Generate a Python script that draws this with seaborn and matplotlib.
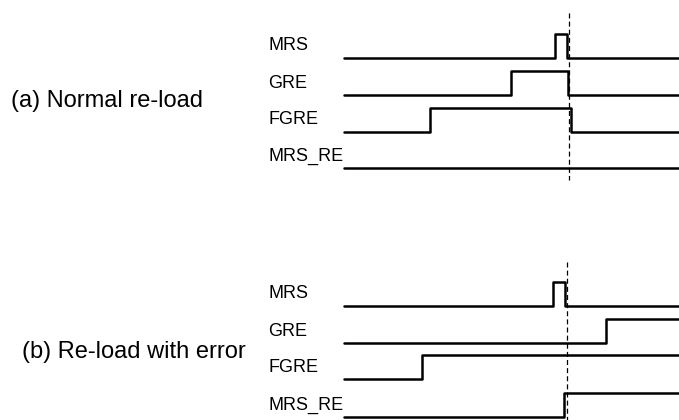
import numpy as np
import pandas as pd
import seaborn as sns
import matplotlib.pyplot as plt

# signal names and the times where each one toggles (starts low)
signals = ["MRS", "GRE", "FGRE", "MRS_RE"]
edges_a = [[555, 567], [511, 568], [430, 571], []]
edges_b = [[553, 565], [606], [422], [564]]
marker_a = 569
marker_b = 567
t_start, t_end = 344, 679
panel_labels = ["(a) Normal re-load", "(b) Re-load with error"]

# layout (pixel units, y down)
row_base_a = [58, 95, 132, 168]
row_base_b = [306, 343, 379, 417]
amp = 24.5


def wave_df(edges_list, bases):
    rows = []
    for name, edges, base in zip(signals, edges_list, bases):
        ts = [t_start] + list(edges) + [t_end]
        lv = [i % 2 for i in range(len(edges) + 1)]
        lv = lv + [lv[-1]]
        for t, l in zip(ts, lv):
            rows.append({"signal": name, "t": t, "y": base - l * amp})
    return pd.DataFrame(rows)


sns.set_style("white")
plt.rcParams["font.family"] = ["Liberation Sans", "DejaVu Sans"]

fig = plt.figure(figsize=(6.79, 4.2), dpi=100)
ax = fig.add_axes([0, 0, 1, 1])

for edges, bases in [(edges_a, row_base_a), (edges_b, row_base_b)]:
    df = wave_df(edges, bases)
    sns.lineplot(data=df, x="t", y="y", units="signal", estimator=None,
                 sort=False, color="black", lw=1.8, drawstyle="steps-post",
                 ax=ax, legend=False)
    for name, base in zip(signals, bases):
        ax.text(268, base - 12, name, fontsize=13, va="center", ha="left",
                color="black")

ax.vlines(marker_a, 13, 180, color="black", lw=0.9, linestyle=(0, (4, 2.5)))
ax.vlines(marker_b, 262, 420, color="black", lw=0.9, linestyle=(0, (4, 2.5)))

ax.text(11, 101, panel_labels[0], fontsize=17, va="center", ha="left",
        color="black")
ax.text(22, 352, panel_labels[1], fontsize=17, va="center", ha="left",
        color="black")

ax.set_xlim(0, 679)
ax.set_ylim(420, 0)
ax.axis("off")

fig.savefig("out.png", dpi=100)
